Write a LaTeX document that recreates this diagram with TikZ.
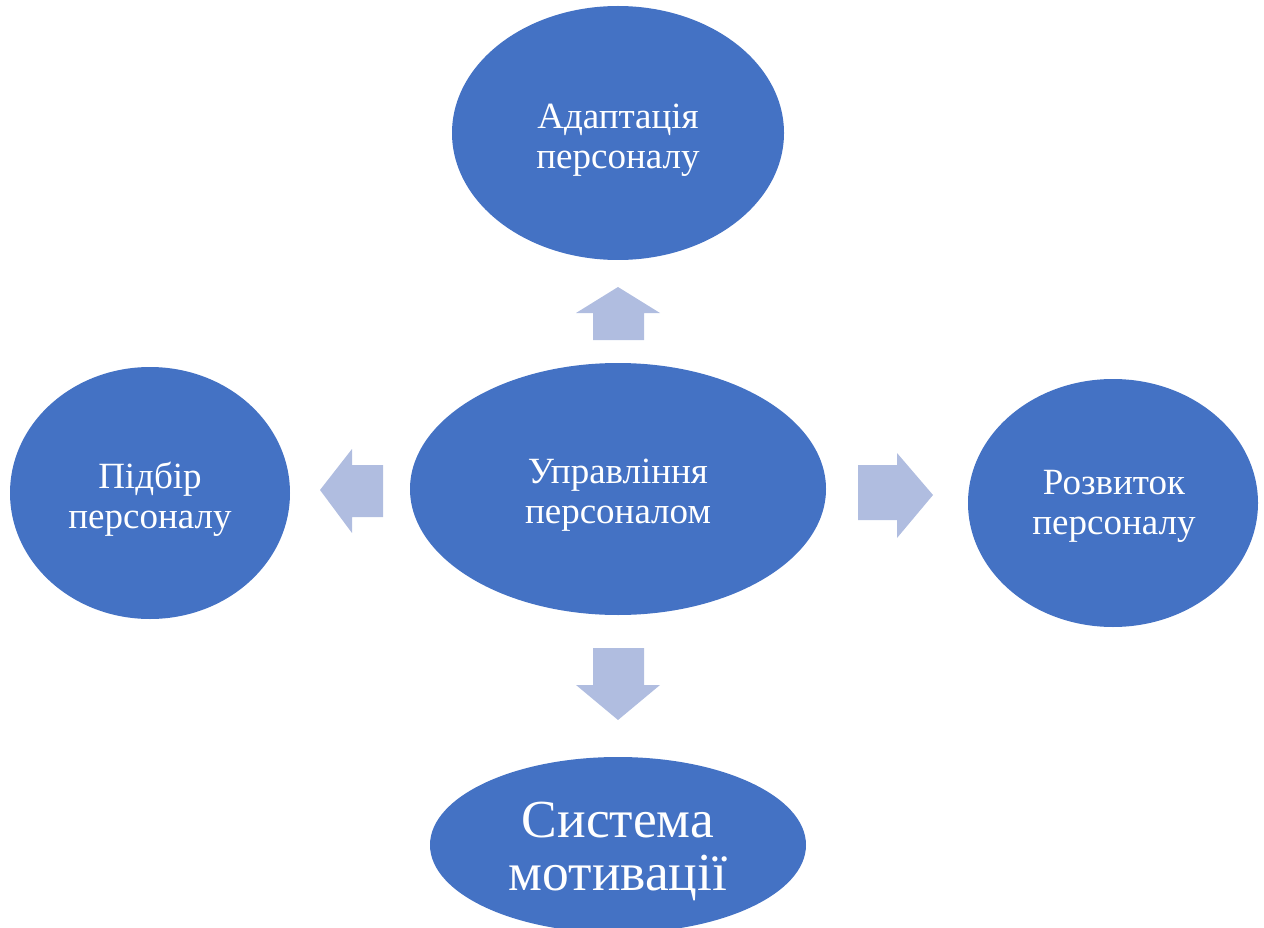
\documentclass[tikz,border=0pt]{standalone}
\usepackage{fontspec}
\setmainfont{Liberation Serif}
\usetikzlibrary{shapes.geometric}
\definecolor{ellblue}{RGB}{68,114,196}
\definecolor{arrblue}{RGB}{176,189,224}
\tikzset{
  ell/.style={ellipse, fill=ellblue, draw=none, inner sep=0pt},
  lbl/.style={text=white, align=center, inner sep=0pt, font=\fontsize{37}{40}\selectfont},
  biglbl/.style={lbl, font=\fontsize{53.5}{53}\selectfont},
  blockarrow/.style={fill=arrblue, draw=none}
}
\begin{document}
\begin{tikzpicture}[x=1pt,y=-1pt]
\useasboundingbox (0,0) rectangle (1264,928);
\clip (0,0) rectangle (1264,928);
\node[ell, minimum width=332pt, minimum height=254pt] (adapt) at (618,133) {};
\node[ell, minimum width=416pt, minimum height=252pt] (center) at (618,489) {};
\node[ell, minimum width=280pt, minimum height=252pt] (pidbir) at (150,493) {};
\node[ell, minimum width=290pt, minimum height=248pt] (rozv) at (1113,503) {};
\node[ell, minimum width=376pt, minimum height=176pt] (motiv) at (618,845) {};
\node[lbl] (adaptT) at (618,140) {Адаптація\\персоналу};
\node[lbl] (centerT) at (618,495) {Управління\\персоналом};
\node[lbl] (pidbirT) at (150,499) {Підбір\\персоналу};
\node[lbl] (rozvT) at (1114,506) {Розвиток\\персоналу};
\node[biglbl] (motivT) at (618,851) {Система\\мотивації};
% block arrows
\fill[blockarrow] (593,340) -- (593,313) -- (576,313) -- (618,287) -- (660,313) -- (644,313) -- (644,340) -- cycle;
\fill[blockarrow] (593,648) -- (593,685) -- (576,685) -- (618,720) -- (660,685) -- (644,685) -- (644,648) -- cycle;
\fill[blockarrow] (383,465) -- (352,465) -- (352,449) -- (320,490) -- (352,533) -- (352,517) -- (383,517) -- cycle;
\fill[blockarrow] (858,465) -- (897,465) -- (897,453) -- (933,495) -- (897,538) -- (897,520) -- (858,520) -- cycle;
\end{tikzpicture}
\end{document}
